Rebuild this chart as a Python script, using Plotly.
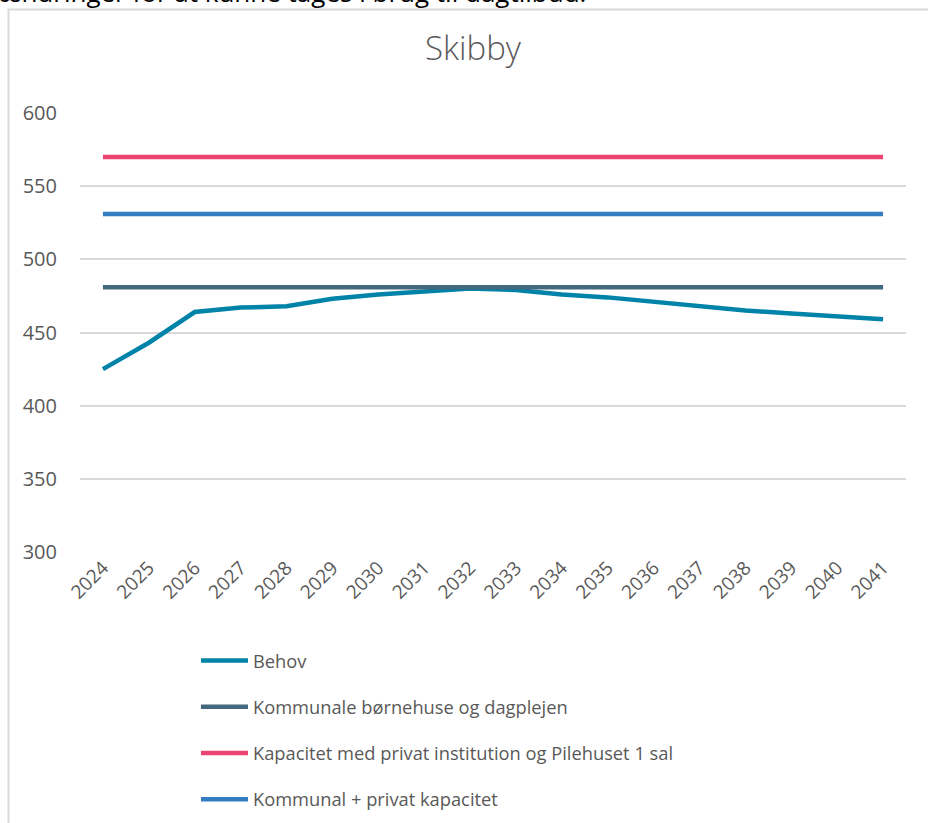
import plotly.graph_objects as go

# data
years = [str(y) for y in range(2024, 2042)]
behov = [425, 443, 464, 467, 468, 473, 476, 478, 480, 479, 476, 474, 471, 468, 465, 463, 461, 459]
kommunale = [481] * 18
kapacitet_privat_pilehuset = [570] * 18
kommunal_privat = [531] * 18

names = [
    "Behov",
    "Kommunale børnehuse og dagplejen",
    "Kapacitet med privat institution og Pilehuset 1 sal",
    "Kommunal + privat kapacitet",
]
colors = ["#0083A9", "#44687D", "#EB4471", "#347DC1"]
series = [behov, kommunale, kapacitet_privat_pilehuset, kommunal_privat]

W, H = 928, 823
L, R, T, B = 80, 906, 113, 552  # plot area in pixels


def px_x(p):
    return (p - L) / (R - L)


def px_y(p):
    return (B - p) / (B - T)


grey_txt = "#595959"
font = "Open Sans"

fig = go.Figure()
for i, (name, vals, col) in enumerate(zip(names, series, colors)):
    fig.add_trace(go.Scatter(
        x=years, y=vals, name=name, mode="lines",
        line=dict(color=col, width=4.5),
        legendgroup=f"g{i}",
    ))

fig.update_layout(
    width=W, height=H,
    margin=dict(l=L, r=W - R, t=T, b=H - B, autoexpand=False),
    plot_bgcolor="white", paper_bgcolor="white",
    font=dict(family=font, color=grey_txt, size=20),
    title=dict(
        text="Skibby", x=px_x(473), xanchor="center", xref="paper",
        y=1 - 48 / H, yanchor="middle",
        font=dict(size=33, color=grey_txt, weight=300),
    ),
    showlegend=True,
    legend=dict(
        x=px_x(196), xanchor="left", y=px_y(642), yanchor="top",
        font=dict(size=18.3, color=grey_txt),
        tracegroupgap=19.5, itemwidth=47, bgcolor="rgba(0,0,0,0)",
    ),
    xaxis=dict(
        type="category", range=[-0.5, 17.5], tickangle=-45,
        showgrid=False, zeroline=False, showline=False, ticks="",
        tickfont=dict(size=19, color=grey_txt),
    ),
    yaxis=dict(
        range=[300, 600], tickvals=[300, 350, 400, 450, 500, 550, 600],
        showgrid=True, gridcolor="#D9D9D9", gridwidth=1.5,
        zeroline=False, showline=False, ticks="",
        ticklabelstandoff=22,
        tickfont=dict(size=20, color=grey_txt),
    ),
)

# frame of the embedded chart object
fig.add_shape(
    type="rect", xref="paper", yref="paper",
    x0=px_x(8.5), x1=px_x(950), y0=px_y(9.5), y1=px_y(850),
    line=dict(color="#D9D9D9", width=2), fillcolor="rgba(0,0,0,0)", layer="below",
)

# document text cut off above the chart
fig.add_annotation(
    text="ændringer for at kunne tages i brug til dagtilbud.",
    xref="paper", yref="paper", x=px_x(-2), xanchor="left",
    y=px_y(11.5), yanchor="bottom", showarrow=False, borderpad=0,
    font=dict(family=font, size=26, color="#000000"),
)

fig.write_html(
    "out.html",
    config={"displayModeBar": False},
    post_script="document.body.style.margin='0';",
)
